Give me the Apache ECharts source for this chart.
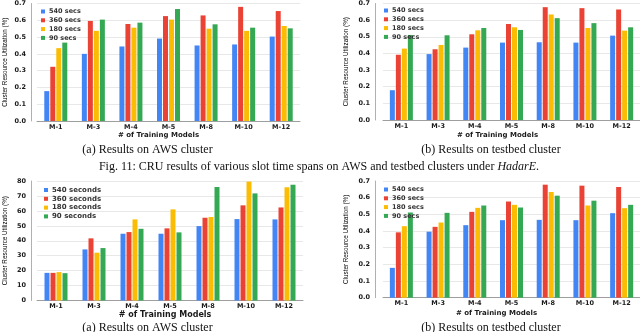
<!DOCTYPE html>
<html>
<head>
<meta charset="utf-8">
<script src="https://cdn.jsdelivr.net/npm/echarts@6/dist/echarts.min.js"></script>
<style>
  html, body { margin: 0; padding: 0; background: #fff; }
  #chart { width: 640px; height: 332px; }
</style>
</head>
<body>
<div id="chart"></div>
<script>
(function () {
  'use strict';

  var categories = ['M-1', 'M-3', 'M-4', 'M-5', 'M-8', 'M-10', 'M-12'];
  var secsNames = ['540 secs', '360 secs', '180 secs', '90 secs'];
  var secondsNames = ['540 seconds', '360 seconds', '180 seconds', '90 seconds'];
  var fractionTicks = [0, 0.1, 0.2, 0.3, 0.4, 0.5, 0.6, 0.7];
  var percentTicks = [0, 10, 20, 30, 40, 50, 60, 70, 80];

  // (a) top: AWS cluster, fraction
  var aws540 = [0.178, 0.400, 0.444, 0.491, 0.450, 0.456, 0.503];
  var aws360 = [0.323, 0.596, 0.578, 0.625, 0.629, 0.680, 0.655];
  var aws180 = [0.434, 0.537, 0.556, 0.604, 0.550, 0.537, 0.566];
  var aws90 = [0.467, 0.604, 0.586, 0.667, 0.576, 0.556, 0.552];

  // (b) testbed cluster, fraction (same in both rows)
  var testbed540 = [0.179, 0.396, 0.435, 0.465, 0.467, 0.465, 0.507];
  var testbed360 = [0.392, 0.425, 0.515, 0.577, 0.678, 0.672, 0.664];
  var testbed180 = [0.429, 0.451, 0.539, 0.557, 0.634, 0.553, 0.537];
  var testbed90 = [0.511, 0.509, 0.553, 0.541, 0.612, 0.582, 0.557];

  // (a) bottom: AWS cluster, percent
  var awsPct540 = [18.5, 34.2, 44.7, 44.7, 49.8, 54.5, 54.3];
  var awsPct360 = [18.5, 41.6, 45.8, 48.3, 55.4, 63.7, 62.3];
  var awsPct180 = [19.0, 32.0, 54.3, 61.0, 55.9, 79.6, 75.8];
  var awsPct90 = [18.3, 35.1, 48.0, 45.6, 76.0, 71.7, 77.5];

  var colors = ['#4285F4', '#EA4335', '#FBBC04', '#34A853'];
  var labelFont = 'DejaVu Sans';

  var panels = [
    { grid: { left: 37, top: 3, width: 263, height: 118 }, names: secsNames,
      data: [aws540, aws360, aws180, aws90], ticks: fractionTicks, digits: 1,
      offset: 6, nameGap: 23, xNameGap: 10.5, xNameShift: 20, xNameSize: 7,
      legend: { left: 36, top: 3 }, legendSize: 6.5 },
    { grid: { left: 383, top: 3, width: 260, height: 117 }, names: secsNames,
      data: [testbed540, testbed360, testbed180, testbed90], ticks: fractionTicks, digits: 1,
      offset: 8, nameGap: 26, xNameGap: 12, xNameShift: 28, xNameSize: 7,
      legend: { left: 379, top: 2 }, legendSize: 6.5 },
    { grid: { left: 37, top: 181, width: 266, height: 119.5 }, names: secondsNames,
      data: [awsPct540, awsPct360, awsPct180, awsPct90], ticks: percentTicks, digits: 0,
      offset: 6, nameGap: 23, xNameGap: 9, xNameShift: 10, xNameSize: 8,
      legend: { left: 39, top: 181.5 }, legendSize: 7 },
    { grid: { left: 383, top: 181, width: 260, height: 116.7 }, names: secsNames,
      data: [testbed540, testbed360, testbed180, testbed90], ticks: fractionTicks, digits: 1,
      offset: 8, nameGap: 26, xNameGap: 12, xNameShift: 30, xNameSize: 7,
      legend: { left: 379, top: 181 }, legendSize: 6.5 }
  ];

  var grids = [], xAxes = [], yAxes = [], series = [], legends = [];

  panels.forEach(function (p, i) {
    grids.push(p.grid);
    var ticks = p.ticks;
    xAxes.push({
      type: 'category', gridIndex: i, data: categories,
      axisTick: { show: false },
      axisLine: { lineStyle: { color: '#9e9e9e', width: 1 } },
      axisLabel: { margin: 2.5, fontFamily: labelFont, fontWeight: 'bold', fontSize: 6.5, color: '#1a1a1a' },
      name: '# of Training Models', nameLocation: 'middle', nameGap: p.xNameGap,
      nameTextStyle: { fontFamily: labelFont, fontWeight: 'bold', fontSize: p.xNameSize, color: '#1a1a1a',
        padding: [0, p.xNameShift, 0, 0] }
    });
    yAxes.push({
      type: 'value', gridIndex: i, offset: p.offset,
      min: ticks[0], max: ticks[ticks.length - 1], interval: ticks[1] - ticks[0],
      axisLine: { show: true, lineStyle: { color: '#b0b0b0' } },
      axisTick: { show: false },
      splitLine: { lineStyle: { color: '#e8e8e8', width: 1 } },
      axisLabel: { margin: 5, fontFamily: labelFont, fontWeight: 'bold', fontSize: 6.5, color: '#1a1a1a',
        formatter: function (v) { return v.toFixed(p.digits); } },
      name: 'Cluster Resource Utilization (%)', nameLocation: 'middle', nameGap: p.nameGap,
      nameTextStyle: { fontFamily: 'Liberation Sans', fontSize: 6.3, color: '#000' }
    });
    legends.push({
      left: p.legend.left, top: p.legend.top, orient: 'vertical',
      data: p.names, itemWidth: 4, itemHeight: 4, itemGap: 1.8, icon: 'rect',
      selectedMode: false,
      textStyle: { fontFamily: labelFont, fontWeight: 'bold', fontSize: p.legendSize,
        lineHeight: 6.5, color: '#333', padding: [0, 0, 0, -1] }
    });
    p.data.forEach(function (vals, k) {
      series.push({
        type: 'bar', name: p.names[k], xAxisIndex: i, yAxisIndex: i,
        data: vals, barWidth: 5, barGap: '20%',
        itemStyle: { color: colors[k] }, animation: false
      });
    });
  });

  var captionStyle = { fontFamily: 'Liberation Serif', fontSize: 12, fill: '#111' };
  function caption(text, x, y) {
    return { type: 'text', x: x, y: y,
      style: Object.assign({ text: text, textAlign: 'center', textVerticalAlign: 'middle' }, captionStyle) };
  }

  var chart = echarts.init(document.getElementById('chart'));
  chart.setOption({
    animation: false,
    color: colors,
    grid: grids,
    xAxis: xAxes,
    yAxis: yAxes,
    legend: legends,
    series: series,
    graphic: [
      caption('(a) Results on AWS cluster', 147.5, 150),
      caption('(b) Results on testbed cluster', 491, 150),
      {
        type: 'text', x: 319, y: 167,
        style: {
          text: '{n|Fig. 11: CRU results of various slot time spans on AWS and testbed clusters under }{i|HadarE}{n|.}',
          textAlign: 'center', textVerticalAlign: 'middle',
          rich: {
            n: { fontFamily: 'Liberation Serif', fontSize: 12, fill: '#111' },
            i: { fontFamily: 'Liberation Serif', fontSize: 12, fontStyle: 'italic', fill: '#111' }
          }
        }
      },
      caption('(a) Results on AWS cluster', 147.5, 328),
      caption('(b) Results on testbed cluster', 491, 328)
    ]
  });
})();
</script>
</body>
</html>
